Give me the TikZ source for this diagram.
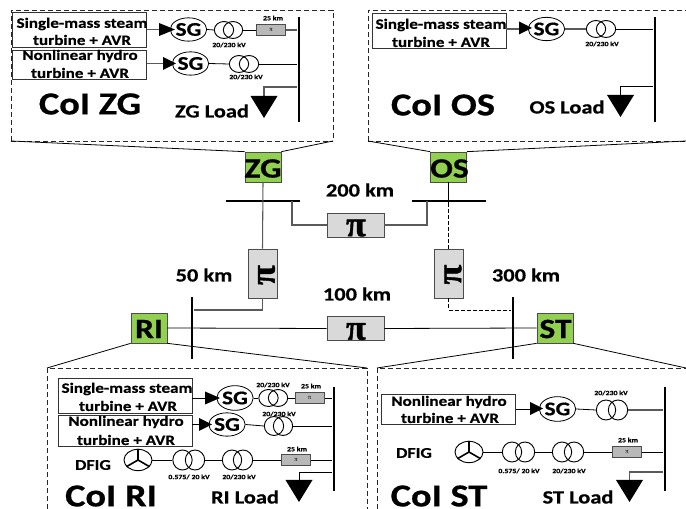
\documentclass[tikz,border=0pt]{standalone}
\usepackage{fontspec}
\setmainfont{Carlito}[BoldFont=Carlito Bold,BoldFeatures={FakeStretch=1.2,FakeBold=0.6}]
\newfontfamily\pifont{Liberation Serif}[BoldFeatures={FakeBold=1.2}]
\usetikzlibrary{shapes.geometric,calc}
\definecolor{busgreen}{RGB}{146,208,80}
\definecolor{pigray}{RGB}{217,217,217}
\definecolor{linegray}{RGB}{90,90,90}
\tikzset{
  x=0.75pt,y=-0.75pt,
  lbl/.style={inner sep=0,font=\bfseries\fontsize{#1}{#1}\selectfont,text=black},
  lbl/.default=10,
  panel/.style={dashed,line width=0.6pt,dash pattern=on 4pt off 2pt,draw=black!85},
  colt/.style={lbl=24},
  loadt/.style={lbl=14},
  boxt/.style={lbl=10.7,align=center},
  small/.style={lbl=4.9},
  kmt/.style={lbl=14},
  codet/.style={lbl=21},
  dfigt/.style={lbl=11.2},
  bigpi/.style={inner sep=0,font=\bfseries\pifont\fontsize{#1}{#1}\selectfont},
  turb/.style={draw=black!80,line width=0.7pt,minimum height=#1*0.75pt,inner sep=0,minimum width=100.5pt,fill=white},
  sgen/.style={ellipse,draw,line width=0.6pt,minimum width=22pt,minimum height=17.5pt,inner sep=0,fill=white,font=\bfseries\fontsize{14.5}{14.5}\selectfont},
  wcirc/.style={ellipse,draw,line width=0.7pt,minimum width=14.5pt,minimum height=#1*0.75pt,inner sep=0},
  wcirc/.default=17,
  wturb/.style={ellipse,draw,line width=0.7pt,minimum width=21pt,minimum height=16pt,inner sep=0},
  blade/.style={line width=1.2pt},
  code/.style={draw=black!70,line width=0.5pt,fill=busgreen,minimum width=27pt,minimum height=22.5pt,inner sep=0},
  pil/.style={draw=black!70,line width=0.5pt,fill=pigray,minimum width=42.75pt,minimum height=18pt,inner sep=0},
  piv/.style={draw=black!70,line width=0.5pt,fill=pigray,minimum width=21.75pt,minimum height=36.75pt,inner sep=0},
  pis/.style={draw=black!70,line width=0.5pt,fill=pigray!85!black,minimum width=22pt,minimum height=8.5pt,inner sep=0,font=\pifont\fontsize{5}{5}\selectfont},
  vbus/.style={fill=black,minimum width=1.9pt,minimum height=#1*0.75pt,inner sep=0},
  hbus/.style={fill=black,minimum height=1.9pt,minimum width=#1*0.75pt,inner sep=0},
  wire/.style={line width=0.6pt,draw=black},
  gwire/.style={line width=0.8pt,draw=linegray},
  pwire/.style={line width=0.6pt},
}
\newcommand{\headto}[3]{\fill (#1,#2) -- ++(#3,-6.5) -- ++(0,13) -- cycle;}
\newcommand{\loadsym}[2]{\fill (#1,#2) -- ++(-13.5,-22) -- ++(27,0) -- cycle;}
\begin{document}
\begin{tikzpicture}
\useasboundingbox (0,0) rectangle (686,509);

% ---------- central codes and buses
\node[code] (ZG) at (263,167) {};
\node[code] (OS) at (448.5,167) {};
\node[code] (RI) at (149,328) {};
\node[code] (ST) at (555,328) {};
\node[hbus=74] (bZG) at (263,201) {};
\node[hbus=74] (bOS) at (448.5,201) {};
\node[vbus=62] (bRI) at (192,328) {};
\node[vbus=62] (bST) at (513,328) {};
\node[pil] (p200) at (355.5,225) {};
\node[pil] (p100) at (355.5,328.5) {};
\node[piv] (p50) at (262.5,273.5) {};
\node[piv] (p300) at (448.5,273.5) {};

\draw[gwire] (ZG.south) -- (p50.north);
\draw[wire] (OS.south) -- (OS.south |- bOS.south);
\draw[wire,dashed,dash pattern=on 3pt off 1.5pt] (OS.south |- bOS.south) -- (p300.north);
\coordinate (a1) at (292,201);
\coordinate (a2) at (427,201);
\draw[gwire] (a1) |- (p200.west);
\draw[gwire] (a2) |- (p200.east);
\draw[gwire] (p50.south) |- (bRI.east |- 0,310);
\draw[wire,dashed,dash pattern=on 3pt off 1.5pt] (p300.south) |- (bST.west |- 0,310);
\draw[wire] (RI.east) -- (p100.west);
\draw[wire] (p100.east) -- (ST.west);
\node[vbus=62] at (bRI) {};
\node[vbus=62] at (bST) {};

\node[codet] (tZG) at (263,168.5) {ZG};
\node[codet] (tOS) at (449.5,168.5) {OS};
\node[codet] (tRI) at (149,329) {RI};
\node[codet] (tST) at (555.5,329) {ST};

\node[bigpi=27,rotate=90] (t50) at (266.5,275) {π};
\node[bigpi=27,rotate=90] (t300) at (453,274.5) {π};
\node[bigpi=27] (t200) at (356,228) {π};
\node[bigpi=27] (t100) at (356,331.5) {π};

\node[kmt] (k200) at (360,190) {200 km};
\node[kmt] (k100) at (357,294) {100 km};
\node[kmt] (k50) at (204,275) {50 km};
\node[kmt] (k300) at (526,275) {300 km};

% ---------- panels
\draw[panel] (11,141) -- (11,10) -- (333,10) -- (333,141);
\draw[panel] (11,141) -- (333,141);
\draw[pwire] (11,141) -- (ZG.north west);
\draw[pwire] (333,141) -- (ZG.north east);
\draw[panel] (368,141) -- (368,10) -- (686,10);
\draw[panel] (368,141) -- (686,141);
\draw[pwire] (368,141) -- (OS.north west);
\draw[pwire] (686,141) -- (OS.north east);
\draw[panel] (47,509) -- (47,368) -- (367,368) -- (367,509);
\draw[pwire] (47,368) -- (RI.south west);
\draw[pwire] (367,368) -- (RI.south east);
\draw[panel] (377,509) -- (377,368) -- (686,368);
\draw[pwire] (377,368) -- (ST.south west);
\draw[pwire] (686,368) -- (ST.south east);

% ---------- ZG
\node[turb=35] (zb1) at (79.5,29.5) {};
\node[turb=29] (zb2) at (79.5,64.5) {};
\node[boxt] at (82,24) {Single-mass steam};
\node[boxt] at (82,40) {turbine + AVR};
\node[boxt] at (80,56) {Nonlinear hydro};
\node[boxt] at (80,73) {turbine + AVR};
\node[vbus=105] (zbus) at (299,69.5) {};
\node[sgen] (zs1) at (188.5,29.5) {SG};
\node[sgen] (zs2) at (190.5,63.5) {SG};
\node[wcirc] (zt1a) at (224,30) {};
\node[wcirc] (zt1b) at (233,30) {};
\node[wcirc] (zt2a) at (239,64) {};
\node[wcirc] (zt2b) at (249,64) {};
\node[pis] (zp1) at (271,30) {π};
\draw[gwire] (zb1.east |- zs1) -- (zs1.west);
\draw[gwire] (zb2.east |- zs2) -- (zs2.west);
\headto{175}{29.5}{-16}
\headto{176}{63.5}{-13}
\draw[wire] (zs1.east) -- (zt1a.west);
\draw[wire] (zt1b.east) -- (zp1.west);
\draw[gwire] (zp1.east) -- (zbus.west |- zp1);
\draw[wire] (zs2.east) -- (zt2a.west);
\draw[wire] (zt2b.east) -- (zbus.west |- zt2b);
\coordinate (zl) at (264,96);
\draw[gwire] (zbus.west |- 0,87) -| (zl);
\loadsym{264}{118}
\node[small] at (229,45) {20/230 kV};
\node[small] at (246,77) {20/230 kV};
\node[small] at (273,18) {25 km};
\node[loadt] at (212,111) {ZG Load};
\node[colt] at (90,104) {CoI ZG};

% ---------- OS
\node[turb=35] (ob1) at (439,30.5) {};
\node[boxt] at (441,25) {Single-mass steam};
\node[boxt] at (441,42) {turbine + AVR};
\node[vbus=105] (obus) at (655,69.5) {};
\node[sgen] (os1) at (546.5,29) {SG};
\node[wcirc] (ot1a) at (596,29) {};
\node[wcirc] (ot1b) at (606,29) {};
\draw[gwire] (ob1.east |- os1) -- (os1.west);
\headto{532}{28}{-13}
\draw[gwire] (os1.east) -- (ot1a.west);
\draw[wire] (ot1b.east) -- (obus.west |- ot1b);
\coordinate (ol) at (620.5,95);
\draw[wire] (obus.west |- 0,86) -| (ol);
\loadsym{620.5}{117}
\node[small] at (602,44) {20/230 kV};
\node[loadt] at (567,107) {OS Load};
\node[colt] at (443,105) {CoI OS};

% ---------- RI
\node[turb=35] (rb1) at (125,395.5) {};
\node[turb=31] (rb2) at (125,430.5) {};
\node[boxt] at (127,389) {Single-mass steam};
\node[boxt] at (128,406) {turbine + AVR};
\node[boxt] at (126,422) {Nonlinear hydro};
\node[boxt] at (126,440) {turbine + AVR};
\node[vbus=104] (rbus) at (334,439) {};
\node[sgen,minimum height=18.5pt] (rs1) at (235,398) {SG};
\node[sgen,minimum height=17.5pt] (rs2) at (227,424.5) {SG};
\node[wcirc] (rt1a) at (268.5,398) {};
\node[wcirc] (rt1b) at (278,398) {};
\node[pis] (rp1) at (309.5,398) {π};
\node[wcirc=19] (rt2a) at (274,426) {};
\node[wcirc=19] (rt2b) at (283,426) {};
\node[pis] (rp3) at (296,460) {π};
\node[wcirc=20] (rt3a) at (182.5,460) {};
\node[wcirc=20] (rt3b) at (195,460) {};
\node[wcirc=20] (rt4a) at (232,460) {};
\node[wcirc=20] (rt4b) at (243,460) {};
\node[wturb] (rw) at (138,460) {};
\draw[blade] (rw.center) -- (rw.north) (rw.center) -- (rw.210) (rw.center) -- (rw.330);
\draw[wire] (rb1.east |- rs1) -- (rs1.west);
\headto{220}{398}{-15}
\draw[wire] (rb2.east |- rs2) -- (rs2.west);
\headto{212}{424.5}{-13}
\draw[wire] (rs1.east) -- (rt1a.west);
\draw[wire] (rt1b.east) -- (rp1.west);
\draw[wire] (rp1.east) -- (rbus.west |- rp1);
\draw[wire] (rs2.east) -- (rt2a.west);
\draw[wire] (rt2b.east) -- (rbus.west |- rt2b);
\draw[wire] (rw.east) -- (rt3a.west);
\draw[wire] (rt3b.east) -- (rt4a.west);
\draw[wire] (rt4b.east) -- (rp3.west);
\draw[wire] (rp3.east) -- (rbus.west |- rp3);
\coordinate (rl) at (299,481);
\draw[wire] (rbus.west |- 0,472) -| (rl);
\loadsym{299}{502}
\node[small] at (273,385) {20/230 kV};
\node[small] at (311,386) {25 km};
\node[small] at (279,414) {20/230 kV};
\node[small] at (297,449) {25 km};
\node[small] at (189,477) {0.575/ 20 kV};
\node[small] at (239,477) {20/230 kV};
\node[dfigt] at (93,465) {DFIG};
\node[loadt] at (245,497) {RI Load};
\node[colt] at (111,496) {CoI RI};

% ---------- ST
\node[turb=30] (sb1) at (448.5,409) {};
\node[boxt] at (449,402) {Nonlinear hydro};
\node[boxt] at (450,418) {turbine + AVR};
\node[vbus=104] (sbus) at (665,439) {};
\node[sgen,minimum height=18.5pt] (ss1) at (557.5,409) {SG};
\node[wcirc=20] (st1a) at (606,410) {};
\node[wcirc=20] (st1b) at (618,410) {};
\node[pis] (sp1) at (627,452) {π};
\node[wcirc=20] (st2a) at (512,452) {};
\node[wcirc=20] (st2b) at (525,452) {};
\node[wcirc=20] (st3a) at (562,452) {};
\node[wcirc=20] (st3b) at (574,452) {};
\node[wturb] (sw) at (469,452) {};
\draw[blade] (sw.center) -- (sw.north) (sw.center) -- (sw.210) (sw.center) -- (sw.330);
\draw[wire] (sb1.east |- ss1) -- (ss1.west);
\headto{543}{408.5}{-13}
\draw[wire] (ss1.east) -- (st1a.west);
\draw[gwire] (st1b.east) -- (sbus.west |- st1b);
\draw[wire] (sw.east) -- (st2a.west);
\draw[wire] (st2b.east) -- (st3a.west);
\draw[wire] (st3b.east) -- (sp1.west);
\draw[wire] (sp1.east) -- (sbus.west |- sp1);
\coordinate (sl) at (629.5,481);
\draw[gwire] (sbus.west |- 0,472) -| (sl);
\loadsym{629.5}{502}
\node[small] at (611,393) {20/230 kV};
\node[small] at (628,440) {25 km};
\node[small] at (519,471) {0.575/ 20 kV};
\node[small] at (569,471) {20/230 kV};
\node[dfigt] at (414,453) {DFIG};
\node[loadt] at (578,497) {ST Load};
\node[colt] at (439,496) {CoI ST};
\end{tikzpicture}
\end{document}
